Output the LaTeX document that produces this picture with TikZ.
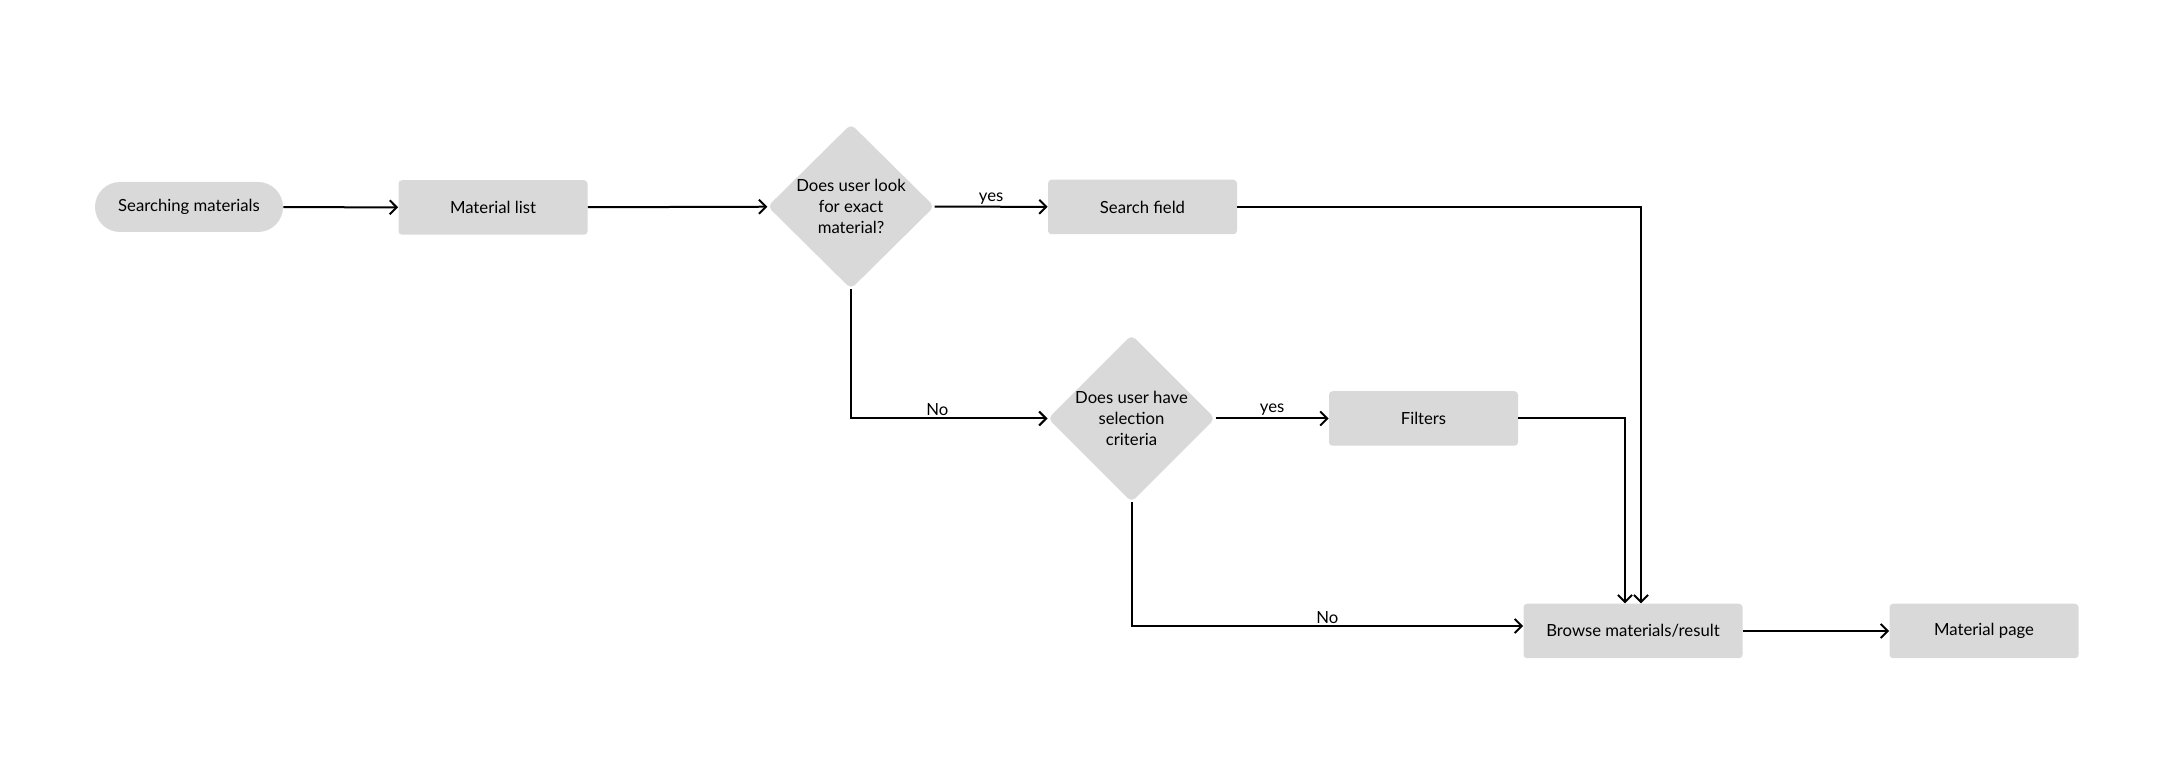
\documentclass[tikz,border=0pt]{standalone}
\usepackage{fontspec}
\setmainfont{Lato}
\usetikzlibrary{arrows.meta,shapes.geometric}

\definecolor{boxgray}{HTML}{D9D9D9}

\begin{document}
\begin{tikzpicture}
        [x=0.2mm,y=-0.2mm,
         every node/.style={font=\fontsize{9.5pt}{12pt}\selectfont},
         box/.style={fill=boxgray,rounded corners=2pt,minimum width=37.8mm,minimum height=10.9mm,inner sep=0pt},
         terminal/.style={fill=boxgray,rounded corners=5mm,minimum width=37.6mm,minimum height=10mm,inner sep=0pt},
         decision/.style={diamond,fill=boxgray,rounded corners=3pt,minimum width=33.4mm,minimum height=33mm,inner sep=0pt,align=center},
         flow/.style={line width=0.04cm,-{Straight Barb[length=4pt,width=8pt]}},
         lbl/.style={font=\fontsize{9.5pt}{12pt}\selectfont,inner sep=1pt}]
        \useasboundingbox (0,0) rectangle (2179,781);

        \node[terminal] (start) at (189,207) {Searching materials};
        \node[box] (mlist) at (493,207.5) {Material list};
        \node[decision] (q1) at (851,206.5) {Does user look\\for exact\\material?};
        \node[box] (search) at (1142.5,207) {Search field};
        \node[decision] (q2) at (1131.5,418.5) {Does user have\\selection\\criteria};
        \node[box] (filters) at (1423.5,418.5) {Filters};
        \node[box,minimum width=43.8mm] (browse) at (1633,631) {Browse materials/result};
        \node[box] (mpage) at (1984,631) {Material page};

        \draw[flow] (start) -- (mlist);
        \draw[flow] (mlist) -- (q1);
        \draw[flow] (q1) -- node[lbl,above] {yes} (search);
        \draw[flow] (q1.south) |- node[lbl,pos=0.72,above] {No} (q2.west);
        \draw[flow] (q2) -- node[lbl,above] {yes} (filters);
        \draw[flow] (q2.south) |- node[lbl,pos=0.75,above] {No} ([yshift=0.1cm]browse.west);
        \draw[flow] (search.east) -| ([xshift=0.16cm]browse.north);
        \draw[flow] (filters.east) -| ([xshift=-0.16cm]browse.north);
        \draw[flow] (browse) -- (mpage);
      \end{tikzpicture}
\end{document}
